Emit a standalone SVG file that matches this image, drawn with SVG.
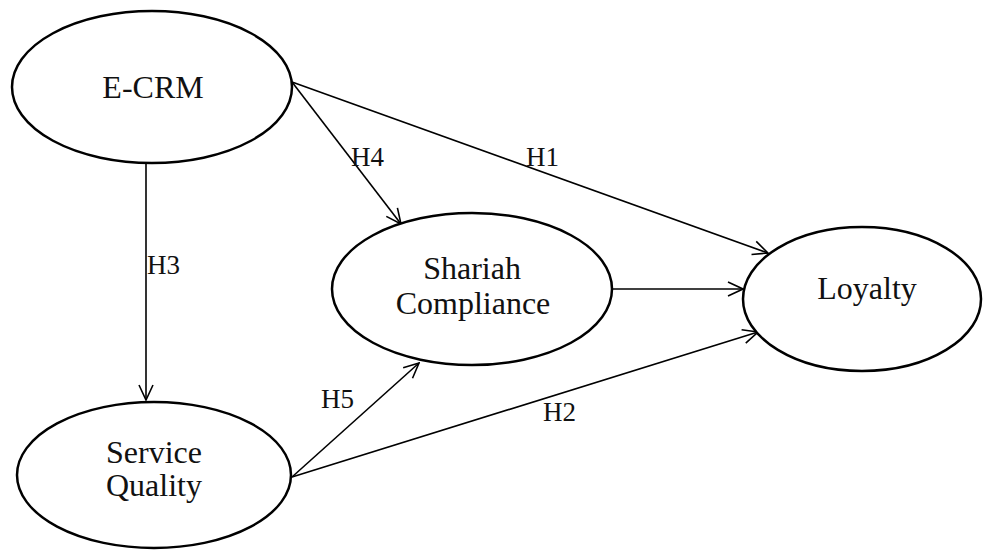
<svg xmlns="http://www.w3.org/2000/svg" width="984" height="550" viewBox="0 0 984 550">
<style>
.node ellipse{fill:#fff;stroke:#000;stroke-width:2.5}
.node text{font-family:"Liberation Serif",serif;font-size:32px;fill:#111;text-anchor:middle}
.conn line{stroke:#000;stroke-width:1.6;fill:none;marker-end:url(#arr)}
.lbl{font-family:"Liberation Serif",serif;font-size:27px;fill:#111}
</style>
<defs>
<marker id="arr" viewBox="0 0 18 18" refX="17" refY="9" markerWidth="18" markerHeight="18" markerUnits="userSpaceOnUse" orient="auto">
<path d="M2,2 L17,9 L2,16" fill="none" stroke="#000" stroke-width="1.6"/>
</marker>
</defs>
<rect width="984" height="550" fill="#fff"/>
<g class="conn" id="connectors">
<line x1="292" y1="82" x2="768" y2="253"/>
<line x1="292" y1="82" x2="401" y2="224"/>
<line x1="146" y1="163" x2="146" y2="400"/>
<line x1="292" y1="477" x2="419" y2="363"/>
<line x1="292" y1="477" x2="758" y2="332"/>
<line x1="612" y1="289" x2="743" y2="289"/>
</g>
<g id="labels">
<text class="lbl" x="351" y="166">H4</text>
<text class="lbl" x="526" y="166">H1</text>
<text class="lbl" x="147" y="274">H3</text>
<text class="lbl" x="321" y="408">H5</text>
<text class="lbl" x="543" y="421">H2</text>
</g>
<g class="node" id="ecrm">
<ellipse cx="152" cy="87" rx="140" ry="76"/>
<text x="153" y="98">E-CRM</text>
</g>
<g class="node" id="servicequality">
<ellipse cx="154" cy="475" rx="137" ry="73"/>
<text x="154" y="463">Service</text>
<text x="154" y="496">Quality</text>
</g>
<g class="node" id="shariah">
<ellipse cx="472" cy="289" rx="140" ry="76"/>
<text x="472" y="279">Shariah</text>
<text x="473" y="314">Compliance</text>
</g>
<g class="node" id="loyalty">
<ellipse cx="862" cy="299" rx="119" ry="72"/>
<text x="867" y="299">Loyalty</text>
</g>
</svg>
